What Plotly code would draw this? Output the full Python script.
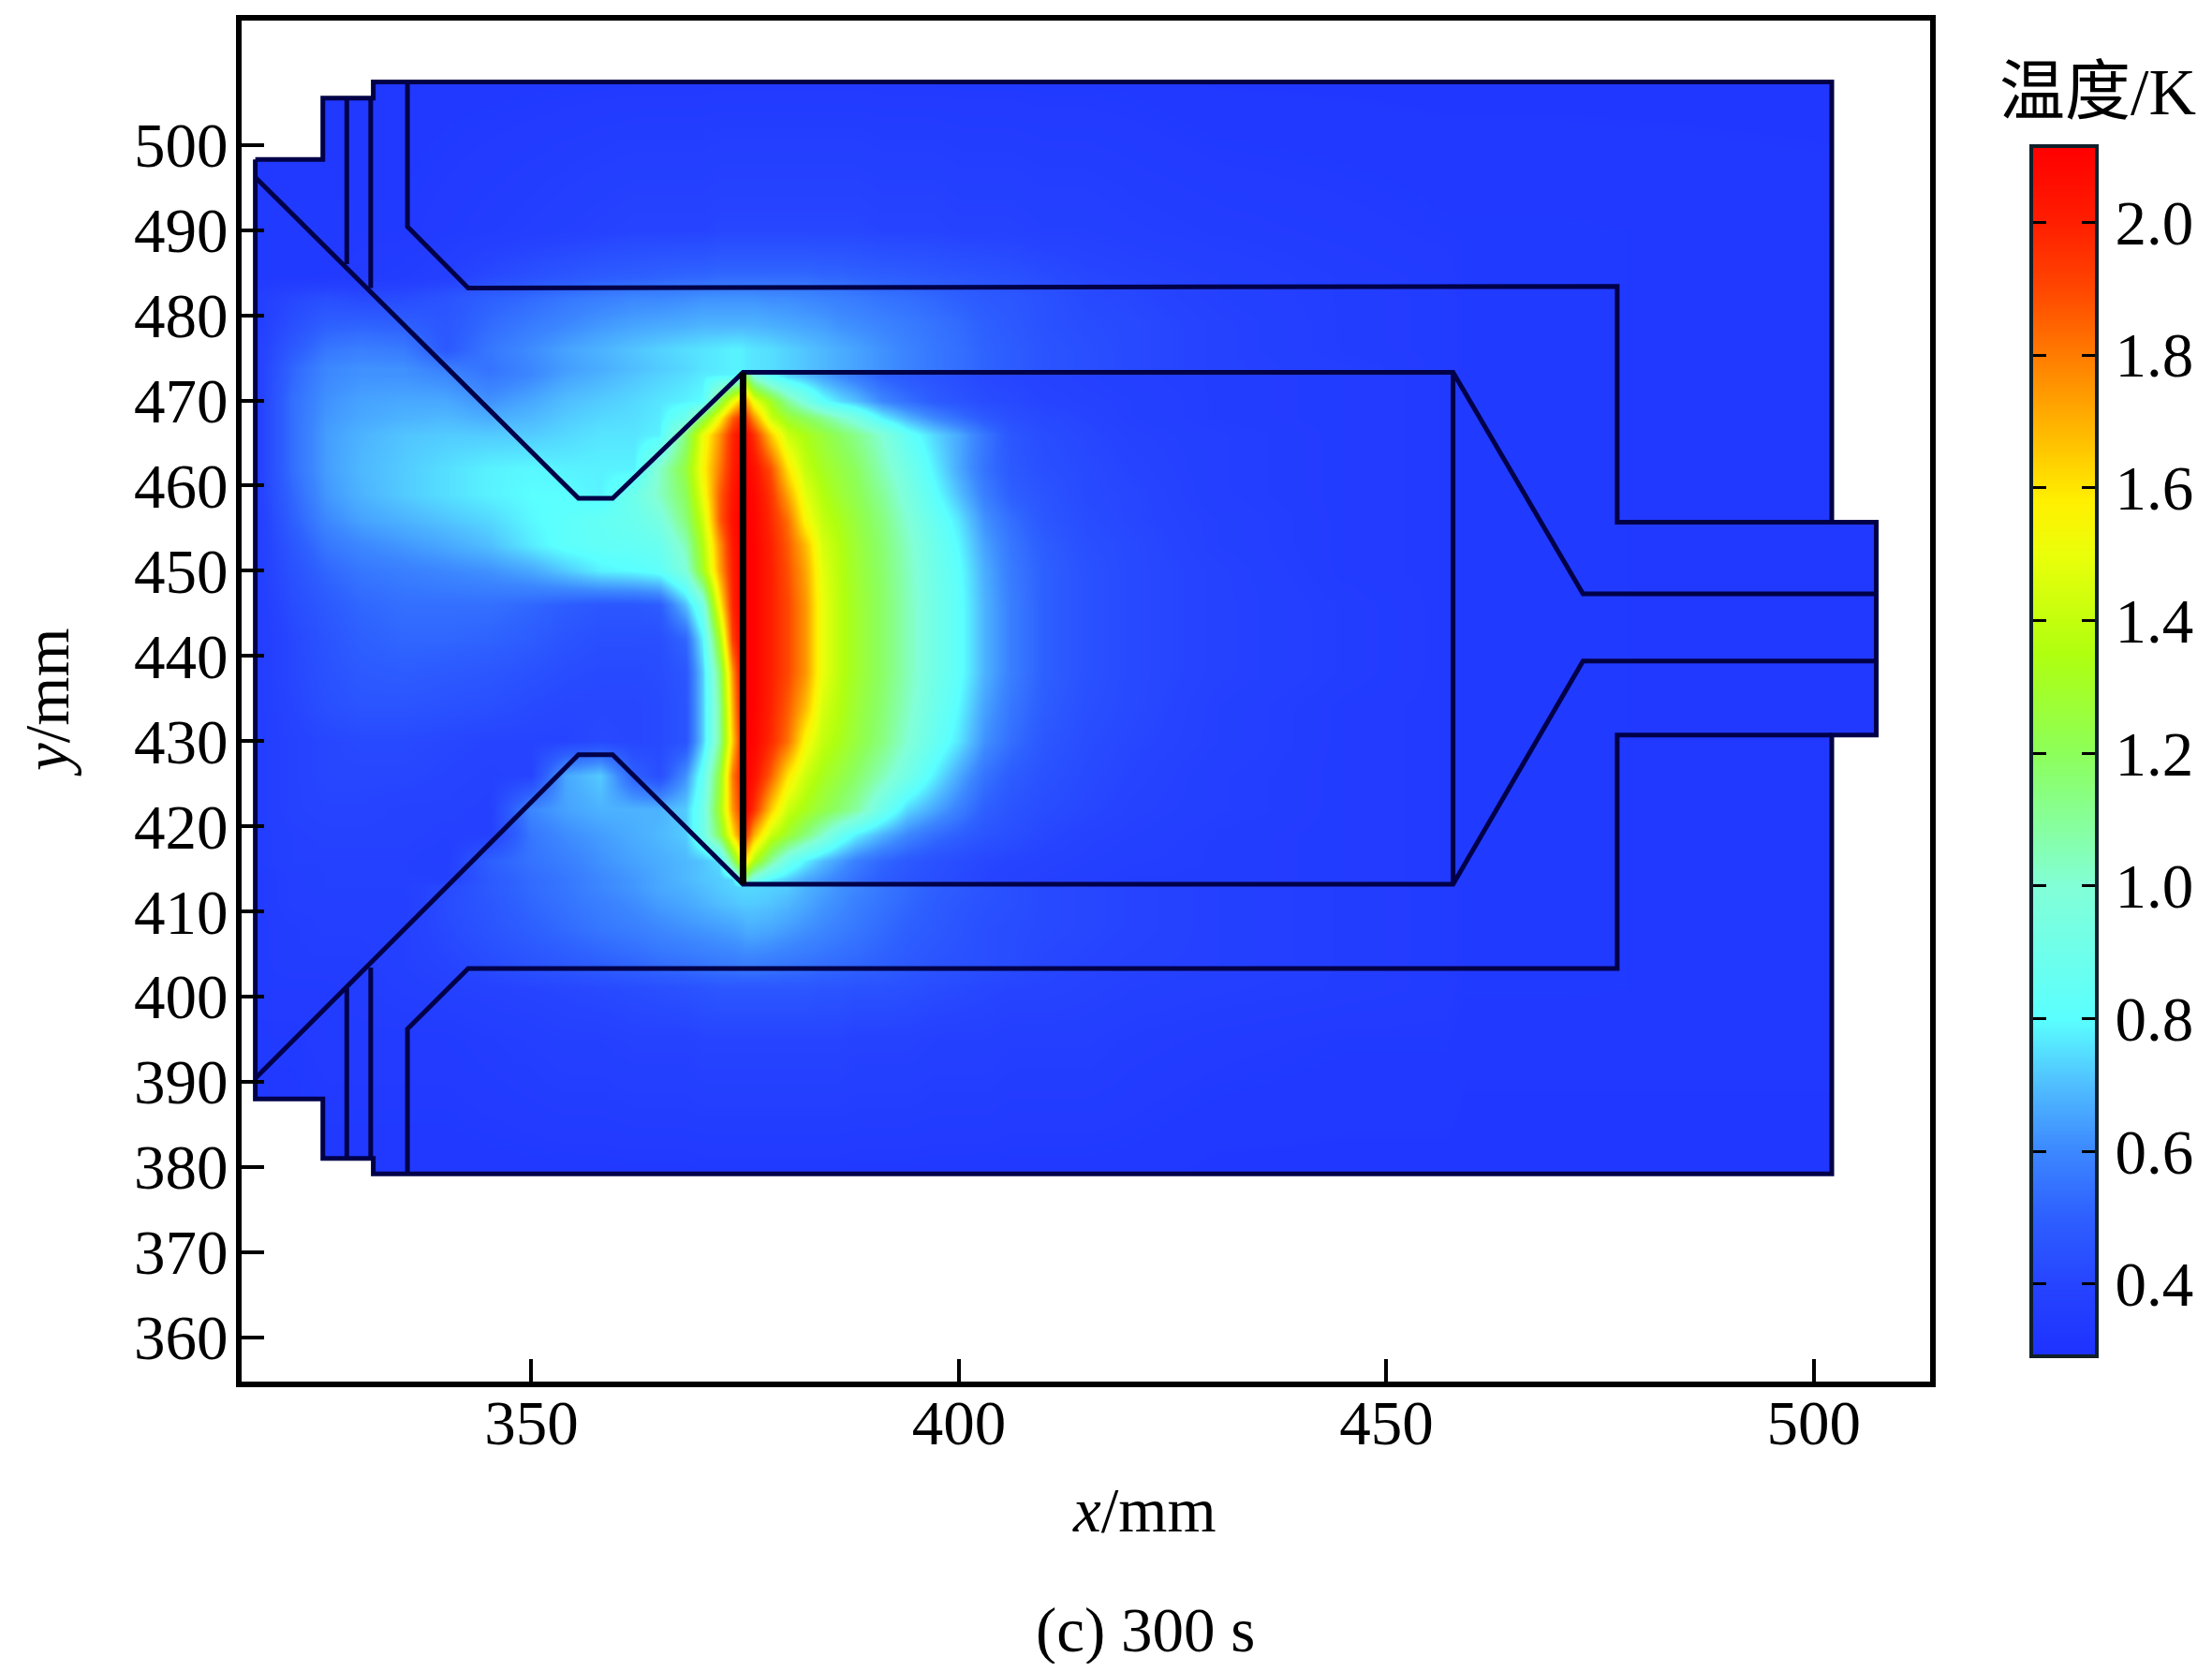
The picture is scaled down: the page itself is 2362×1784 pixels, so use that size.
import plotly.graph_objects as go

W, H = 2362, 1784
PW, PH = W - 16, H - 16
X = [316, 318, 322, 326, 330, 335, 340, 345, 350, 354, 358, 362, 365, 368, 370, 372, 373.5, 374.6,
     375, 376, 378, 380, 382, 384, 386, 388, 391, 394, 397, 400, 403, 406, 410, 415, 420,
     430, 445, 457, 459, 470, 515]
Y = [378, 395, 401, 404, 408, 411, 412.9, 413.7, 416, 419, 422, 426, 430, 434, 438, 442, 446, 450, 453, 456,
     459, 462, 466, 468, 470, 473, 473.7, 476, 479, 482, 484.5, 490, 510]

Z_LEFT = [
 [.33,.33,.33,.33,.33,.33,.33,.33,.33,.33,.33,.33,.33,.33,.33,.33,.33,.33],
 [.33,.34,.34,.35,.35,.35,.35,.36,.37,.38,.38,.39,.39,.39,.40,.40,.40,.40],
 [.34,.35,.35,.35,.36,.37,.38,.39,.40,.41,.42,.43,.44,.45,.46,.47,.47,.47],
 [.34,.35,.36,.36,.36,.38,.40,.43,.46,.48,.50,.52,.54,.55,.56,.57,.57,.58],
 [.34,.35,.36,.37,.37,.38,.42,.46,.50,.53,.56,.58,.60,.62,.63,.64,.65,.66],
 [.34,.35,.37,.37,.37,.37,.43,.47,.52,.55,.58,.61,.64,.66,.68,.70,.71,.72],
 [.34,.35,.37,.38,.38,.38,.42,.48,.53,.56,.60,.63,.66,.68,.70,.72,.73,.74],
 [.34,.35,.37,.38,.38,.38,.38,.48,.53,.56,.60,.63,.66,.69,.71,.72,.74,.95],
 [.34,.36,.38,.38,.38,.38,.37,.50,.55,.58,.62,.65,.67,.69,.71,.75,1.15,1.5],
 [.34,.36,.38,.39,.39,.39,.38,.38,.56,.61,.64,.67,.69,.72,.90,1.2,1.6,1.85],
 [.34,.36,.39,.40,.40,.39,.39,.38,.60,.65,.68,.68,.68,.72,.90,1.3,1.75,1.95],
 [.34,.36,.39,.41,.41,.41,.40,.39,.40,.66,.72,.50,.44,.62,.85,1.25,1.8,2.0],
 [.34,.36,.39,.41,.42,.42,.41,.40,.40,.40,.42,.41,.42,.46,.72,1.1,1.65,2.0],
 [.34,.36,.40,.44,.46,.46,.45,.44,.42,.41,.41,.41,.42,.46,.72,1.1,1.7,2.05],
 [.34,.36,.41,.45,.48,.49,.48,.47,.45,.43,.42,.42,.43,.47,.72,1.15,1.75,2.08],
 [.34,.36,.41,.46,.50,.52,.52,.51,.49,.46,.44,.44,.44,.52,.78,1.32,1.92,2.10],
 [.35,.36,.43,.48,.52,.54,.54,.54,.52,.49,.47,.47,.49,.70,.92,1.55,1.98,2.12],
 [.35,.37,.45,.52,.56,.58,.60,.62,.66,.72,.78,.80,.83,.98,1.30,1.72,2.0,2.12],
 [.35,.37,.47,.56,.60,.63,.66,.70,.77,.82,.84,.85,.88,1.05,1.35,1.75,2.02,2.12],
 [.35,.37,.50,.60,.65,.68,.71,.74,.79,.82,.85,.88,.95,1.15,1.42,1.85,2.05,2.12],
 [.35,.38,.52,.63,.68,.72,.75,.78,.80,.80,.78,.90,1.03,1.20,1.50,1.85,2.03,2.11],
 [.35,.38,.54,.64,.69,.72,.75,.78,.79,.78,.78,.78,1.02,1.25,1.55,1.80,2.0,2.10],
 [.35,.38,.54,.64,.68,.71,.72,.72,.72,.74,.76,.76,.78,1.15,1.5,1.75,1.98,2.08],
 [.35,.38,.54,.63,.66,.68,.69,.67,.69,.72,.74,.75,.77,.90,1.2,1.55,1.85,1.98],
 [.35,.38,.54,.62,.65,.66,.66,.62,.66,.70,.72,.74,.76,.78,.80,1.2,1.5,1.7],
 [.35,.38,.52,.60,.62,.62,.60,.56,.60,.65,.68,.71,.73,.75,.77,.78,.78,.80],
 [.35,.38,.52,.60,.62,.62,.58,.55,.60,.64,.67,.70,.72,.74,.76,.77,.78,.78],
 [.35,.38,.48,.56,.58,.57,.48,.56,.61,.65,.68,.71,.73,.75,.76,.77,.78,.78],
 [.35,.37,.44,.50,.51,.50,.47,.53,.57,.60,.63,.65,.66,.67,.68,.68,.68,.68],
 [.35,.37,.41,.44,.42,.43,.46,.50,.53,.56,.58,.60,.60,.61,.62,.62,.62,.62],
 [.34,.34,.34,.34,.35,.36,.38,.42,.45,.47,.49,.50,.51,.52,.52,.53,.53,.53],
 [.34,.34,.34,.34,.34,.34,.35,.36,.37,.38,.39,.40,.40,.40,.40,.41,.41,.41],
 [.33,.33,.33,.33,.33,.33,.33,.33,.33,.33,.33,.33,.33,.33,.33,.33,.33,.33],
]
Z_MID = [
 [.33,.33,.33,.33,.33,.33,.33,.33,.33,.33,.33,.33,.33,.33,.33,.33,.33],
 [.40,.40,.40,.40,.40,.40,.40,.39,.39,.39,.38,.38,.38,.37,.37,.37,.36],
 [.47,.47,.47,.47,.47,.46,.46,.45,.45,.44,.43,.42,.41,.40,.40,.39,.38],
 [.58,.58,.57,.56,.55,.54,.53,.52,.50,.48,.46,.45,.44,.43,.41,.40,.39],
 [.67,.67,.66,.64,.62,.60,.58,.56,.53,.50,.48,.46,.44,.43,.42,.41,.40],
 [.72,.72,.71,.69,.66,.63,.61,.58,.55,.52,.49,.47,.45,.44,.42,.41,.40],
 [.74,.74,.73,.72,.68,.65,.62,.60,.56,.53,.50,.48,.46,.44,.42,.41,.40],
 [1.1,.92,.78,.72,.66,.62,.58,.54,.49,.46,.44,.42,.40,.39,.38,.37,.36],
 [1.6,1.35,1.1,.90,.78,.70,.64,.58,.52,.48,.45,.43,.41,.40,.39,.38,.37],
 [1.95,1.7,1.42,1.28,1.15,1.02,.88,.78,.68,.60,.54,.50,.46,.44,.41,.39,.38],
 [2.1,1.95,1.65,1.42,1.32,1.24,1.17,1.09,.90,.74,.66,.58,.50,.46,.43,.41,.39],
 [2.11,2.05,1.85,1.6,1.42,1.32,1.25,1.18,1.05,.92,.78,.66,.55,.49,.45,.42,.40],
 [2.12,2.09,1.97,1.82,1.55,1.40,1.33,1.25,1.14,1.0,.87,.76,.62,.54,.47,.43,.41],
 [2.12,2.1,1.99,1.86,1.68,1.45,1.36,1.27,1.16,1.03,.90,.79,.65,.56,.49,.44,.42],
 [2.12,2.1,2.0,1.9,1.75,1.50,1.38,1.29,1.18,1.05,.92,.82,.68,.58,.50,.45,.42],
 [2.12,2.1,2.0,1.9,1.75,1.50,1.38,1.29,1.18,1.05,.92,.82,.68,.58,.50,.45,.42],
 [2.12,2.1,2.0,1.9,1.75,1.50,1.38,1.29,1.18,1.05,.92,.82,.68,.58,.50,.45,.42],
 [2.12,2.1,2.0,1.88,1.72,1.48,1.37,1.28,1.17,1.04,.91,.81,.67,.57,.50,.45,.42],
 [2.12,2.1,1.99,1.86,1.68,1.45,1.36,1.27,1.16,1.03,.90,.79,.65,.56,.49,.44,.42],
 [2.12,2.09,1.97,1.82,1.55,1.40,1.33,1.25,1.14,1.0,.87,.76,.62,.54,.47,.43,.41],
 [2.12,2.08,1.94,1.72,1.48,1.36,1.28,1.22,1.10,.96,.82,.70,.58,.50,.46,.42,.41],
 [2.11,2.05,1.88,1.6,1.40,1.31,1.25,1.19,1.05,.92,.78,.66,.55,.48,.44,.42,.40],
 [2.08,1.95,1.65,1.42,1.33,1.26,1.19,1.12,1.0,.84,.74,.66,.56,.47,.43,.41,.39],
 [1.95,1.75,1.42,1.28,1.2,1.12,1.03,.95,.78,.68,.60,.54,.48,.44,.42,.40,.38],
 [1.75,1.5,1.3,1.1,.95,.82,.75,.70,.60,.54,.49,.46,.43,.42,.40,.39,.38],
 [1.2,.95,.80,.72,.68,.64,.60,.56,.50,.47,.45,.43,.41,.40,.39,.38,.37],
 [.77,.76,.75,.73,.71,.69,.67,.65,.62,.59,.56,.54,.51,.49,.46,.44,.42],
 [.77,.76,.75,.73,.71,.69,.67,.65,.62,.59,.56,.54,.51,.49,.46,.44,.42],
 [.68,.68,.67,.66,.65,.64,.62,.61,.59,.57,.55,.53,.50,.48,.45,.43,.42],
 [.62,.62,.61,.61,.60,.59,.58,.57,.55,.54,.52,.50,.48,.47,.45,.42,.41],
 [.53,.53,.53,.53,.53,.52,.52,.51,.50,.49,.48,.47,.46,.45,.43,.41,.40],
 [.41,.41,.41,.41,.41,.41,.41,.41,.40,.40,.40,.39,.39,.39,.38,.38,.37],
 [.33,.33,.33,.33,.33,.33,.33,.33,.33,.33,.33,.33,.33,.33,.33,.33,.33],
]
Z_RIGHT = [
 [.32,.32,.32,.32,.32,.32], [.35,.34,.34,.33,.33,.33], [.37,.36,.35,.34,.34,.33],
 [.38,.36,.35,.34,.34,.33], [.38,.36,.35,.34,.34,.33], [.38,.36,.35,.34,.34,.33],
 [.38,.36,.35,.34,.34,.33], [.36,.35,.34,.34,.34,.33], [.36,.35,.34,.34,.34,.33],
 [.36,.35,.34,.34,.34,.33], [.37,.35,.34,.34,.34,.33], [.37,.35,.34,.34,.34,.33],
 [.38,.35,.34,.34,.34,.33], [.38,.35,.34,.34,.34,.33], [.39,.36,.34,.34,.34,.33],
 [.39,.36,.34,.34,.34,.33], [.39,.36,.34,.34,.34,.33], [.39,.35,.34,.34,.34,.33],
 [.38,.35,.34,.34,.34,.33], [.38,.35,.34,.34,.34,.33], [.37,.35,.34,.34,.34,.33],
 [.37,.35,.34,.34,.34,.33], [.37,.35,.34,.34,.34,.33], [.36,.35,.34,.34,.34,.33],
 [.36,.35,.34,.34,.34,.33], [.36,.35,.34,.34,.34,.33], [.39,.37,.35,.34,.34,.33],
 [.39,.36,.35,.34,.34,.33], [.39,.36,.35,.34,.34,.33], [.38,.36,.35,.34,.34,.33],
 [.38,.36,.35,.34,.34,.33], [.36,.35,.34,.34,.34,.33], [.32,.32,.32,.32,.32,.32],
]

LEVELS = [0.294, 0.4, 0.5, 0.6, 0.7, 0.8, 1.0, 1.2, 1.35, 1.5, 1.58, 1.75, 1.9, 2.0, 2.112]
COLORS = ["rgb(30,50,255)", "rgb(38,68,255)", "rgb(45,95,255)", "rgb(60,135,255)", "rgb(80,190,255)",
          "rgb(90,255,255)", "rgb(130,255,215)", "rgb(140,255,90)", "rgb(175,255,15)", "rgb(235,255,10)",
          "rgb(255,240,0)", "rgb(255,150,0)", "rgb(255,70,0)", "rgb(255,30,0)", "rgb(255,0,0)"]
CBAR_TICKS = [0.4, 0.6, 0.8, 1.0, 1.2, 1.4, 1.6, 1.8, 2.0]
X_TICKS = [350, 400, 450, 500]
Y_TICKS = [360, 370, 380, 390, 400, 410, 420, 430, 440, 450, 460, 470, 480, 490, 500]

# Outline of the device, mm (counter-clockwise)
OUT_X = [317.7, 317.7, 325.6, 325.6, 331.5, 331.5, 502.1, 502.1, 507.3, 507.3, 502.1, 502.1, 331.5, 331.5, 325.6, 325.6, 317.7]
OUT_Y = [498.3, 388.0, 388.0, 381.0, 381.0, 379.2, 379.2, 430.7, 430.7, 455.7, 455.7, 507.4, 507.4, 505.5, 505.5, 498.3, 498.3]
# Inner walls, mm
WALLS = [
 ([317.7, 355.5, 359.5, 374.75, 457.8, 473.0, 507.3], [496.2, 458.5, 458.5, 473.3, 473.3, 447.3, 447.3]),
 ([317.7, 355.5, 359.5, 374.75, 457.8, 473.0, 507.3], [390.4, 428.4, 428.4, 413.2, 413.2, 439.4, 439.4]),
 ([374.75, 374.75], [473.3, 413.2]),
 ([457.8, 457.8], [473.3, 413.2]),
 ([507.3, 507.3], [455.7, 430.7]),
 ([335.5, 335.5, 342.6, 477.0, 477.0, 502.1], [507.4, 490.4, 483.2, 483.4, 455.7, 455.7]),
 ([335.5, 335.5, 342.6, 477.0, 477.0, 502.1], [379.2, 396.2, 403.3, 403.3, 430.7, 430.7]),
 ([328.4, 328.4], [505.5, 486.0]),
 ([331.2, 331.2], [505.5, 483.2]),
 ([328.4, 328.4], [401.0, 381.0]),
 ([331.2, 331.2], [403.4, 381.0]),
]
X_RANGE = [316.1, 513.6]
Y_RANGE = [354.8, 514.6]

Z = [a + b + c for a, b, c in zip(Z_LEFT, Z_MID, Z_RIGHT)]
lo, hi = LEVELS[0], LEVELS[-1]
scale = [[(v - lo) / (hi - lo), c] for v, c in zip(LEVELS, COLORS)]


def px(v):
    return (v - 8) / PW


def py(v):
    return 1 - (v - 8) / PH


fig = go.Figure()
fig.add_trace(go.Heatmap(x=X, y=Y, z=Z, zsmooth="best", zmin=lo, zmax=hi, colorscale=scale,
                         showscale=False, hoverinfo="skip"))
# White surround: frame rectangle, then the outline traversed back to the start
mx = [X_RANGE[0], X_RANGE[1], X_RANGE[1], X_RANGE[0], X_RANGE[0]] + OUT_X + [X_RANGE[0]]
my = [Y_RANGE[1], Y_RANGE[1], Y_RANGE[0], Y_RANGE[0], Y_RANGE[1]] + OUT_Y + [Y_RANGE[1]]
fig.add_trace(go.Scatter(x=mx, y=my, mode="none", fill="toself", fillcolor="white", hoverinfo="skip", showlegend=False))
fig.add_trace(go.Scatter(x=OUT_X, y=OUT_Y, mode="lines", line=dict(color="#000048", width=5), showlegend=False))
for wx, wy in WALLS:
    is_hot = wx == [374.75, 374.75]
    fig.add_trace(go.Scatter(x=wx, y=wy, mode="lines", showlegend=False,
                             line=dict(color="#000000" if is_hot else "#000048", width=7 if is_hot else 5)))
# Colour ramp on its own axes
fig.add_trace(go.Heatmap(x=[0, 1], y=LEVELS, z=[[v, v] for v in LEVELS], zsmooth="best", zmin=lo, zmax=hi,
                         colorscale=scale, showscale=False, xaxis="x2", yaxis="y2", hoverinfo="skip"))

FONT = "Liberation Serif, Noto Sans CJK SC, serif"
fig.update_layout(
    width=PW, height=PH, margin=dict(l=0, r=0, t=0, b=0, pad=0), paper_bgcolor="white", plot_bgcolor="white",
    font=dict(family=FONT, size=67, color="black"), showlegend=False,
    xaxis=dict(domain=[px(258), px(2061)], range=X_RANGE, tickvals=X_TICKS, ticks="inside", ticklen=24, tickwidth=4,
               tickcolor="black", showline=True, linewidth=6, linecolor="black", mirror=True, showgrid=False,
               zeroline=False, tickfont=dict(size=67), automargin=False, ticklabelstandoff=-19),
    yaxis=dict(domain=[py(1475), py(22)], range=Y_RANGE, tickvals=Y_TICKS, ticks="inside", ticklen=24, tickwidth=4,
               tickcolor="black", showline=True, linewidth=6, linecolor="black", mirror=True, showgrid=False,
               zeroline=False, tickfont=dict(size=67), automargin=False, ticklabelstandoff=-5),
    xaxis2=dict(domain=[px(2171), px(2237)], range=[0, 1], anchor="y2", showticklabels=False, ticks="",
                showline=True, linewidth=4, linecolor="#10202a", mirror=True, showgrid=False, zeroline=False),
    yaxis2=dict(domain=[py(1446), py(158)], range=[lo, hi], anchor="x2", side="right", tickvals=CBAR_TICKS,
                tickformat=".1f", ticks="inside", ticklen=14, tickwidth=3, tickcolor="black", mirror="ticks",
                showline=True, linewidth=4, linecolor="#10202a", showgrid=False, zeroline=False,
                tickfont=dict(size=67), automargin=False, ticklabelstandoff=4),
    annotations=[
        dict(text="<i>x</i>/mm", x=px(1222), y=py(1612), xref="paper", yref="paper", showarrow=False,
             xanchor="center", yanchor="middle", font=dict(size=67)),
        dict(text="<i>y</i>/mm", x=px(50), y=py(750), xref="paper", yref="paper", showarrow=False, textangle=-90,
             xanchor="center", yanchor="middle", font=dict(size=67)),
        dict(text="(c) 300 s", x=px(1223), y=py(1740), xref="paper", yref="paper", showarrow=False,
             xanchor="center", yanchor="middle", font=dict(size=67)),
        dict(text="温度/K", x=px(2240), y=py(98), xref="paper", yref="paper", showarrow=False,
             xanchor="center", yanchor="middle", font=dict(size=70)),
    ],
)
fig.write_html("out.html")
